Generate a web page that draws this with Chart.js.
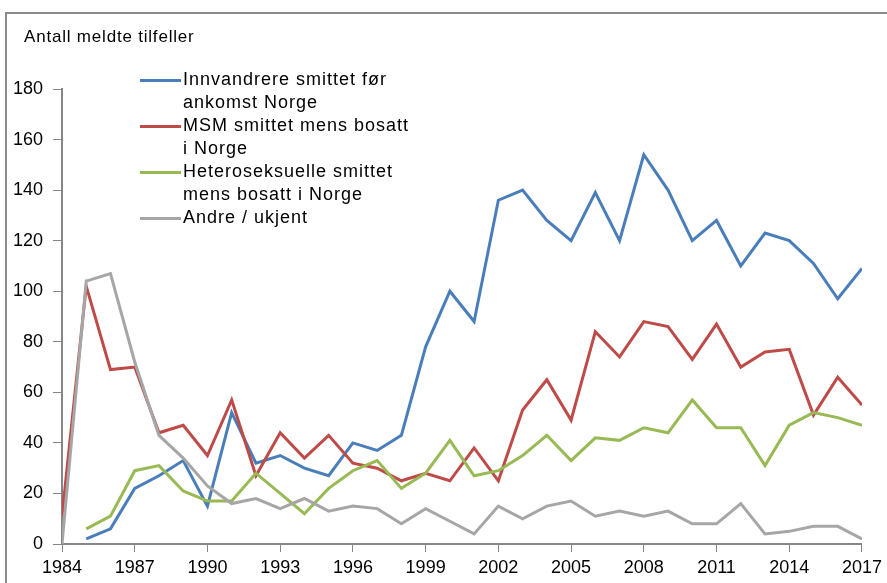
<!DOCTYPE html>
<html>
<head>
<meta charset="utf-8">
<script src="https://cdn.jsdelivr.net/npm/chart.js@4"></script>
<style>
  body { margin: 0; background: #fff; font-family: "Liberation Sans", Arial, sans-serif; }
  #wrap { position: relative; width: 887px; height: 583px; overflow: hidden; }
  #frame { position: absolute; left: 5px; top: 12px; width: 920px; height: 620px; border: 2px solid #8a8a8a; box-sizing: border-box; }
  #ytitle { position: absolute; left: 24px; top: 27px; font-size: 17px; letter-spacing: 0.8px; color: #000; }
  #legend { position: absolute; left: 140px; top: 68px; font-size: 18px; line-height: 23px; letter-spacing: 1px; color: #000; }
  .item { display: flex; align-items: flex-start; }
  .swatch { width: 41px; height: 3px; margin-top: 11px; margin-right: 2px; flex: none; }
  canvas { position: absolute; left: 0; top: 0; }
</style>
</head>
<body>
<div id="wrap">
  <div id="frame"></div>
  <canvas id="c" width="887" height="583"></canvas>
  <div id="ytitle">Antall meldte tilfeller</div>
  <div id="legend"></div>
</div>
<script>
// years 1984..2017
const Years = [1984, 1985, 1986, 1987, 1988, 1989, 1990, 1991, 1992, 1993, 1994, 1995, 1996, 1997, 1998, 1999, 2000,
  2001, 2002, 2003, 2004, 2005, 2006, 2007, 2008, 2009, 2010, 2011, 2012, 2013, 2014, 2015, 2016, 2017];

const Innvandrere = [null, 2, 6, 22, 27, 33, 15, 52, 32, 35, 30, 27, 40, 37, 43, 78, 100,
  88, 136, 140, 128, 120, 139, 120, 154, 140, 120, 128, 110, 123, 120, 111, 97, 109];
const MSM = [11, 102, 69, 70, 44, 47, 35, 57, 27, 44, 34, 43, 32, 30, 25, 28, 25,
  38, 25, 53, 65, 49, 84, 74, 88, 86, 73, 87, 70, 76, 77, 51, 66, 55];
const Hetero = [null, 6, 11, 29, 31, 21, 17, 17, 28, 20, 12, 22, 29, 33, 22, 28, 41,
  27, 29, 35, 43, 33, 42, 41, 46, 44, 57, 46, 46, 31, 47, 52, 50, 47];
const Andre = [0, 104, 107, 72, 43, 34, 23, 16, 18, 14, 18, 13, 15, 14, 8, 14, 9,
  4, 15, 10, 15, 17, 11, 13, 11, 13, 8, 8, 16, 4, 5, 7, 7, 2];

const SeriesLabels = [
  ["Innvandrere smittet før", "ankomst Norge"],
  ["MSM smittet mens bosatt", "i Norge"],
  ["Heteroseksuelle smittet", "mens bosatt i Norge"],
  ["Andre / ukjent"]
];
const SeriesColors = ["#4A7EBB", "#BE4B48", "#98B954", "#A6A6A6"];
const XTicks = [1984, 1987, 1990, 1993, 1996, 1999, 2002, 2005, 2008, 2011, 2014, 2017];
const YTicks = [0, 20, 40, 60, 80, 100, 120, 140, 160, 180];

const toPoints = (arr) => arr.map((v, i) => ({ x: Years[i], y: v }));
const AxisColor = "#868686";

const datasets = [Innvandrere, MSM, Hetero, Andre].map((arr, i) => ({
  label: SeriesLabels[i].join(" "),
  data: toPoints(arr),
  borderColor: SeriesColors[i],
  backgroundColor: SeriesColors[i],
  borderWidth: 3,
  pointRadius: 0,
  tension: 0,
  spanGaps: false,
}));

// html legend, multi-line labels
const legend = document.getElementById("legend");
SeriesLabels.forEach((lines, i) => {
  const item = document.createElement("div");
  item.className = "item";
  const sw = document.createElement("div");
  sw.className = "swatch";
  sw.style.background = SeriesColors[i];
  const txt = document.createElement("div");
  txt.innerHTML = lines.join("<br>");
  item.appendChild(sw);
  item.appendChild(txt);
  legend.appendChild(item);
});

new Chart(document.getElementById("c").getContext("2d"), {
  type: "line",
  data: { datasets: [...datasets].reverse() },
  options: {
    responsive: false,
    animation: false,
    layout: { padding: { top: 89, right: 24, left: 0, bottom: 0 } },
    plugins: { legend: { display: false }, tooltip: { enabled: false } },
    scales: {
      x: {
        type: "linear",
        min: 1984,
        max: 2017,
        afterBuildTicks: (s) => { s.ticks = XTicks.map((v) => ({ value: v })); },
        ticks: {
          color: "#000",
          font: { family: "Liberation Sans", size: 18 },
          padding: 5,
          maxRotation: 0,
          callback: (v) => String(v),
        },
        grid: { drawOnChartArea: false, drawTicks: true, tickLength: 8, color: AxisColor },
        border: { color: AxisColor, width: 2 },
        afterFit: (s) => { s.height = 39; },
      },
      y: {
        min: 0,
        max: 180,
        afterBuildTicks: (s) => { s.ticks = YTicks.map((v) => ({ value: v })); },
        ticks: {
          color: "#000",
          font: { family: "Liberation Sans", size: 18 },
          padding: 10,
        },
        grid: { drawOnChartArea: false, drawTicks: true, tickLength: 9, color: AxisColor },
        border: { color: AxisColor, width: 2 },
        afterFit: (s) => { s.width = 62; },
      },
    },
  },
});
</script>
</body>
</html>
